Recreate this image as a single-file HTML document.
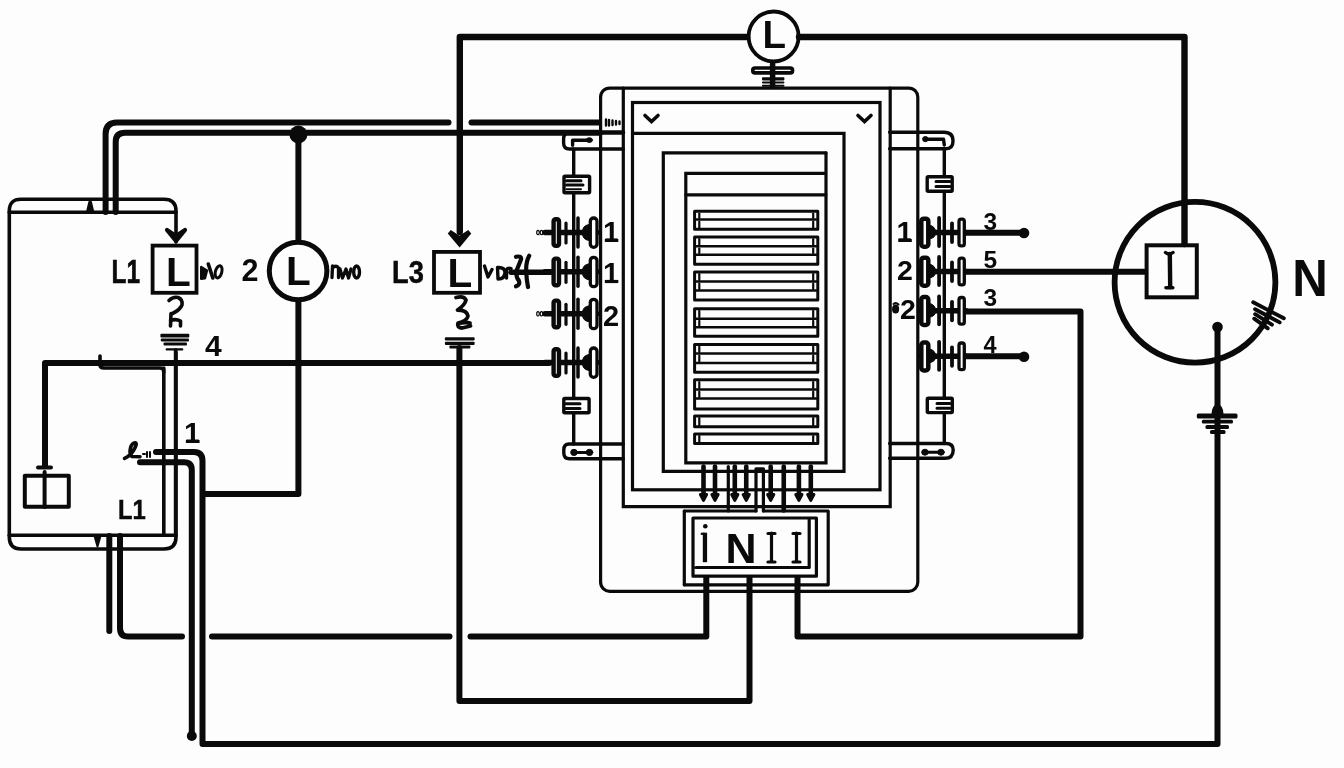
<!DOCTYPE html>
<html><head><meta charset="utf-8"><style>
html,body{margin:0;padding:0;background:#fdfdfd;width:1344px;height:768px;overflow:hidden}
svg{display:block;will-change:transform}
text{font-family:"Liberation Sans",sans-serif;font-weight:bold;fill:#0a0a0a;stroke:none}
</style></head><body>
<svg width="1344" height="768" viewBox="0 0 1344 768">
<g fill="none" stroke="#0a0a0a" stroke-linecap="round" stroke-linejoin="round">

<g stroke-width="3.2" stroke-linejoin="miter">
  <rect x="600.6" y="88.1" width="317.2" height="503.2" rx="9"/>
  <path d="M623.3 88.1 L623.3 506.7 L890.2 506.7 L890.2 88.1"/>
  <rect x="632.5" y="102.5" width="247.5" height="387.3"/>
  <path d="M632.5 133.3 L844 133.3 L844 471.3 L663.3 471.3 L663.3 152.9 L826 152.9"/>
  <path d="M826 152.9 L826 462.9 L685.8 462.9 L685.8 173.4 L826 173.4"/>
  <path d="M685.8 194.8 L825.8 194.8"/>
  <!-- chevrons -->
  <path d="M645 115.5 L651.5 121.5 L658 115.5" stroke-width="3.6"/>
  <path d="M858 115.5 L864.5 121.5 L871 115.5" stroke-width="3.6"/>
</g>

<g stroke-width="3">
<rect x="694.6" y="211.3" width="123.2" height="18.0"/>
<path d="M696 219.5 L816 219.5" stroke-width="2.6"/>
<path d="M699.3 213.5 L699.3 217.9" stroke-width="2.2"/>
<path d="M813.2 213.5 L813.2 217.9" stroke-width="2.2"/>
<path d="M699.3 221.7 L699.3 227.7" stroke-width="2.2"/>
<path d="M813.2 221.7 L813.2 227.7" stroke-width="2.2"/>
<rect x="694.6" y="237" width="123.2" height="27.3"/>
<path d="M696 246.3 L816 246.3" stroke-width="2.6"/>
<path d="M696 254.7 L816 254.7" stroke-width="2.6"/>
<path d="M699.3 239.2 L699.3 244.7" stroke-width="2.2"/>
<path d="M813.2 239.2 L813.2 244.7" stroke-width="2.2"/>
<path d="M699.3 248.5 L699.3 253.1" stroke-width="2.2"/>
<path d="M813.2 248.5 L813.2 253.1" stroke-width="2.2"/>
<rect x="694.6" y="272" width="123.2" height="28.1"/>
<path d="M696 281.5 L816 281.5" stroke-width="2.6"/>
<path d="M696 290.5 L816 290.5" stroke-width="2.6"/>
<path d="M699.3 274.2 L699.3 279.9" stroke-width="2.2"/>
<path d="M813.2 274.2 L813.2 279.9" stroke-width="2.2"/>
<path d="M699.3 283.7 L699.3 288.9" stroke-width="2.2"/>
<path d="M813.2 283.7 L813.2 288.9" stroke-width="2.2"/>
<rect x="694.6" y="308.7" width="123.2" height="27.5"/>
<path d="M696 318.7 L816 318.7" stroke-width="2.6"/>
<path d="M696 327.3 L816 327.3" stroke-width="2.6"/>
<path d="M699.3 310.9 L699.3 317.1" stroke-width="2.2"/>
<path d="M813.2 310.9 L813.2 317.1" stroke-width="2.2"/>
<path d="M699.3 320.9 L699.3 325.7" stroke-width="2.2"/>
<path d="M813.2 320.9 L813.2 325.7" stroke-width="2.2"/>
<rect x="694.6" y="344.5" width="123.2" height="27.8"/>
<path d="M696 353.5 L816 353.5" stroke-width="2.6"/>
<path d="M696 363 L816 363" stroke-width="2.6"/>
<path d="M699.3 346.7 L699.3 351.9" stroke-width="2.2"/>
<path d="M813.2 346.7 L813.2 351.9" stroke-width="2.2"/>
<path d="M699.3 355.7 L699.3 361.4" stroke-width="2.2"/>
<path d="M813.2 355.7 L813.2 361.4" stroke-width="2.2"/>
<rect x="694.6" y="379.8" width="123.2" height="29.2"/>
<path d="M696 389.5 L816 389.5" stroke-width="2.6"/>
<path d="M696 398.5 L816 398.5" stroke-width="2.6"/>
<path d="M699.3 382.0 L699.3 387.9" stroke-width="2.2"/>
<path d="M813.2 382.0 L813.2 387.9" stroke-width="2.2"/>
<path d="M699.3 391.7 L699.3 396.9" stroke-width="2.2"/>
<path d="M813.2 391.7 L813.2 396.9" stroke-width="2.2"/>
<rect x="694.6" y="416" width="123.2" height="10.8"/>
<path d="M699.3 418.2 L699.3 425.2" stroke-width="2.2"/>
<path d="M813.2 418.2 L813.2 425.2" stroke-width="2.2"/>
<rect x="694.6" y="434" width="123.2" height="9.4"/>
<path d="M699.3 436.2 L699.3 441.8" stroke-width="2.2"/>
<path d="M813.2 436.2 L813.2 441.8" stroke-width="2.2"/>
</g>
<g>
<path d="M703.5 466.5 L703.5 496" stroke-width="4.6"/>
<path d="M700.3 494.5 L706.7 494.5 L703.5 500.5 Z" fill="#0a0a0a" stroke-width="2.8"/>
<path d="M715 466.5 L715 496" stroke-width="4.6"/>
<path d="M711.8 494.5 L718.2 494.5 L715 500.5 Z" fill="#0a0a0a" stroke-width="2.8"/>
<path d="M734.8 466.5 L734.8 496" stroke-width="4.6"/>
<path d="M731.5999999999999 494.5 L738.0 494.5 L734.8 500.5 Z" fill="#0a0a0a" stroke-width="2.8"/>
<path d="M746.25 466.5 L746.25 496" stroke-width="4.6"/>
<path d="M743.05 494.5 L749.45 494.5 L746.25 500.5 Z" fill="#0a0a0a" stroke-width="2.8"/>
<path d="M770.7 466.5 L770.7 496" stroke-width="4.6"/>
<path d="M767.5 494.5 L773.9000000000001 494.5 L770.7 500.5 Z" fill="#0a0a0a" stroke-width="2.8"/>
<path d="M798.9 466.5 L798.9 496" stroke-width="4.6"/>
<path d="M795.6999999999999 494.5 L802.1 494.5 L798.9 500.5 Z" fill="#0a0a0a" stroke-width="2.8"/>
<path d="M810.8 466.5 L810.8 496" stroke-width="4.6"/>
<path d="M807.5999999999999 494.5 L814.0 494.5 L810.8 500.5 Z" fill="#0a0a0a" stroke-width="2.8"/>
</g>
<g stroke-width="3.2">
<path d="M728.3 466.5 L728.3 511"/>
<path d="M783.75 466.5 L783.75 510.5" stroke-width="4.6"/>
<path d="M756 511 L756 468.8 L763.4 468.8 L763.4 511"/>
</g>
<g stroke-width="3.2">
<path d="M684.3 511 L756 511 M763.4 511 L828.2 511 L828.2 584.8 L684.3 584.8"/>
<path d="M684.3 511 L684.3 584.8"/>
<path d="M693 576.2 L693 518 L816.4 518 L816.4 576.2 L693 576.2 M696 567.5 L809.2 567.5 L809.2 518"/>
</g>
<g fill="#0a0a0a" stroke="none">
<circle cx="705.3" cy="526.3" r="2.3"/>
<rect x="702.8" y="532.7" width="4.3" height="29.5"/>
<rect x="700.8" y="532.7" width="4" height="2.2"/>
</g>
<text x="725.5" y="562.6" font-size="43">N</text>
<g stroke-width="3.2">
<path d="M771.5 533 L771.5 562 M768 533.5 L775 533.5 M768 562 L775 562"/>
<path d="M796.5 533 L796.5 562 M793 533.5 L800 533.5 M793 562 L800 562"/>
</g>

<g stroke-width="3.4">
<!-- left top bracket -->
<path d="M569 132.5 Q563.6 133 563.6 139 L563.6 143 Q563.6 149 569.5 149 L623.3 149"/>
<path d="M572.6 145.3 L572.6 140.3 L588 140.3"/>
<ellipse cx="589.4" cy="140.1" rx="3" ry="2.4" fill="#0a0a0a" stroke-width="1"/>
<path d="M573.7 149 L573.7 176"/>
<path d="M573.7 193 L573.7 397"/>
<path d="M573.7 414 L573.7 444"/>
<rect x="564" y="176.3" width="25.6" height="16.5" rx="1"/>
<path d="M566.5 180.8 L581 180.8 M566.5 185 L583 185" stroke-width="3"/>
<path d="M566.5 189.3 L581 189.3" stroke-width="2"/>
<!-- left bottom bracket -->
<path d="M623.3 444 L569 444 Q563.8 444 563.8 450 L563.8 453 Q563.8 458.7 569.5 458.7 L623.3 458.7"/>
<path d="M574 452.4 L590 452.4" stroke-width="3"/>
<ellipse cx="574" cy="452.4" rx="3.3" ry="3.1" fill="#0a0a0a" stroke-width="1"/>
<ellipse cx="589.5" cy="452.4" rx="3.3" ry="3.1" fill="#0a0a0a" stroke-width="1"/>
<rect x="563.8" y="398.5" width="25.3" height="14.3" rx="1"/>
<path d="M566 403.8 L580 403.8 M566 408.4 L580 408.4" stroke-width="3"/>
<!-- right top bracket -->
<path d="M889.6 132.3 L944 132.3 Q953 132.3 953 141 Q953 148.7 946 148.7 L889.6 148.7"/>
<ellipse cx="925.4" cy="139.1" rx="2.8" ry="2.6" fill="#0a0a0a" stroke-width="1"/>
<path d="M925.2 139.3 L943.5 139.3 L944.3 145"/>
<path d="M944.3 149 L944.3 175"/>
<path d="M944.3 193 L944.3 398.3"/>
<path d="M944.3 412.6 L944.3 443.5"/>
<rect x="927.2" y="176.8" width="25" height="14.4" rx="1"/>
<path d="M936 181.6 L950 181.6 M936 186.4 L950 186.4" stroke-width="3"/>
<!-- right bottom bracket -->
<path d="M889.6 443.5 L946 443.5 Q953.2 443.5 953.2 450 Q953.2 458.3 945 458.3 L889.6 458.3"/>
<path d="M925 452.2 L941 452.2" stroke-width="3"/>
<ellipse cx="925" cy="452.2" rx="3.3" ry="3" fill="#0a0a0a" stroke-width="1"/>
<ellipse cx="941" cy="452.2" rx="3.3" ry="3" fill="#0a0a0a" stroke-width="1"/>
<rect x="927.3" y="398.3" width="25" height="14.3" rx="1"/>
<path d="M937 403.5 L950 403.5 M937 408.2 L950 408.2" stroke-width="3"/>
</g>

<g>
<line x1="545" y1="232.5" x2="597" y2="232.5" stroke-width="5.5"/>
<rect x="553.6" y="219.3" width="5.4" height="26.6" rx="2" stroke-width="4.4" fill="#fff"/>
<line x1="566" y1="223.0" x2="566" y2="243.0" stroke-width="3.2"/>
<line x1="578" y1="218.0" x2="578" y2="247.0" stroke-width="3.5"/>
<path d="M589 224.5 Q582 225.5 582.5 232.5 Q582 239.5 589 240.5 Z" fill="#0a0a0a" stroke-width="1"/>
<rect x="590.3" y="218.0" width="6.7" height="29.4" rx="3.3" stroke-width="3.3" fill="#fff"/>
<ellipse cx="538" cy="232.5" rx="1.3" ry="2.2" stroke-width="1.2"/>
<ellipse cx="541.5" cy="232.5" rx="1.3" ry="2.2" stroke-width="1.2"/>
<line x1="545" y1="271.8" x2="597" y2="271.8" stroke-width="5.5"/>
<rect x="553.6" y="258.6" width="5.4" height="26.6" rx="2" stroke-width="4.4" fill="#fff"/>
<line x1="566" y1="262.3" x2="566" y2="282.3" stroke-width="3.2"/>
<line x1="578" y1="257.3" x2="578" y2="286.3" stroke-width="3.5"/>
<path d="M589 263.8 Q582 264.8 582.5 271.8 Q582 278.8 589 279.8 Z" fill="#0a0a0a" stroke-width="1"/>
<rect x="590.3" y="257.3" width="6.7" height="29.4" rx="3.3" stroke-width="3.3" fill="#fff"/>
<line x1="545" y1="313.8" x2="597" y2="313.8" stroke-width="5.5"/>
<rect x="553.6" y="300.6" width="5.4" height="26.6" rx="2" stroke-width="4.4" fill="#fff"/>
<line x1="566" y1="304.3" x2="566" y2="324.3" stroke-width="3.2"/>
<line x1="578" y1="299.3" x2="578" y2="328.3" stroke-width="3.5"/>
<path d="M589 305.8 Q582 306.8 582.5 313.8 Q582 320.8 589 321.8 Z" fill="#0a0a0a" stroke-width="1"/>
<rect x="590.3" y="299.3" width="6.7" height="29.4" rx="3.3" stroke-width="3.3" fill="#fff"/>
<ellipse cx="538" cy="313.8" rx="1.3" ry="2.2" stroke-width="1.2"/>
<ellipse cx="541.5" cy="313.8" rx="1.3" ry="2.2" stroke-width="1.2"/>
<line x1="545" y1="362.5" x2="597" y2="362.5" stroke-width="5.5"/>
<rect x="553.6" y="349.3" width="5.4" height="26.6" rx="2" stroke-width="4.4" fill="#fff"/>
<line x1="566" y1="353.0" x2="566" y2="373.0" stroke-width="3.2"/>
<line x1="578" y1="348.0" x2="578" y2="377.0" stroke-width="3.5"/>
<path d="M589 354.5 Q582 355.5 582.5 362.5 Q582 369.5 589 370.5 Z" fill="#0a0a0a" stroke-width="1"/>
<rect x="590.3" y="348.0" width="6.7" height="29.4" rx="3.3" stroke-width="3.3" fill="#fff"/>
<line x1="921" y1="232.5" x2="966" y2="232.5" stroke-width="5.5"/>
<rect x="921.3" y="218.7" width="7" height="28" rx="2.5" stroke-width="4.5" fill="#fff"/>
<path d="M929 224.9 Q936 226.5 935.5 232.5 Q936 238.0 929 239.0 Z" fill="#0a0a0a" stroke-width="1"/>
<line x1="939.1" y1="218.0" x2="939.1" y2="246.0" stroke-width="3.8"/>
<line x1="952" y1="223.5" x2="952" y2="242.0" stroke-width="3.8"/>
<rect x="959" y="219.2" width="5.3" height="26.7" rx="2.2" stroke-width="3.3" fill="#fff"/>
<line x1="921" y1="271.5" x2="966" y2="271.5" stroke-width="5.5"/>
<rect x="921.3" y="257.7" width="7" height="28" rx="2.5" stroke-width="4.5" fill="#fff"/>
<path d="M929 263.9 Q936 265.5 935.5 271.5 Q936 277.0 929 278.0 Z" fill="#0a0a0a" stroke-width="1"/>
<line x1="939.1" y1="257.0" x2="939.1" y2="285.0" stroke-width="3.8"/>
<line x1="952" y1="262.5" x2="952" y2="281.0" stroke-width="3.8"/>
<rect x="959" y="258.2" width="5.3" height="26.7" rx="2.2" stroke-width="3.3" fill="#fff"/>
<line x1="921" y1="310.8" x2="966" y2="310.8" stroke-width="5.5"/>
<rect x="921.3" y="297.0" width="7" height="28" rx="2.5" stroke-width="4.5" fill="#fff"/>
<path d="M929 303.2 Q936 304.8 935.5 310.8 Q936 316.3 929 317.3 Z" fill="#0a0a0a" stroke-width="1"/>
<line x1="939.1" y1="296.3" x2="939.1" y2="324.3" stroke-width="3.8"/>
<line x1="952" y1="301.8" x2="952" y2="320.3" stroke-width="3.8"/>
<rect x="959" y="297.5" width="5.3" height="26.7" rx="2.2" stroke-width="3.3" fill="#fff"/>
<line x1="921" y1="356.3" x2="966" y2="356.3" stroke-width="5.5"/>
<rect x="921.3" y="342.5" width="7" height="28" rx="2.5" stroke-width="4.5" fill="#fff"/>
<path d="M929 348.7 Q936 350.3 935.5 356.3 Q936 361.8 929 362.8 Z" fill="#0a0a0a" stroke-width="1"/>
<line x1="939.1" y1="341.8" x2="939.1" y2="369.8" stroke-width="3.8"/>
<line x1="952" y1="347.3" x2="952" y2="365.8" stroke-width="3.8"/>
<rect x="959" y="343.0" width="5.3" height="26.7" rx="2.2" stroke-width="3.3" fill="#fff"/>
</g>
<!-- ===== thick wires ===== -->
<g stroke-width="6">
  <path d="M105.6 212 L105.6 134 Q105.6 122.4 117 122.4 L448.5 122.4"/>
  <path d="M471.5 122.4 L599 122.4"/>
  <path d="M115.7 212 L115.7 142 Q115.7 132.8 125 132.8 L600 132.8"/>
  <path d="M600 132.6 L623 132.6" stroke-width="4.5"/>
  <path d="M298.4 134 L298.4 240"/>
  <path d="M298.4 302 L298.4 494 L204 494"/>
  <path d="M459.8 232 L459.8 37 L747 37" stroke-width="6.4"/>
  <path d="M799 37 L1184.5 37 L1184.5 244" stroke-width="6.4"/>
  <path d="M45 466 L45 363 L549 363"/>
  <path d="M459.4 348 L459.4 701 L749.5 701 L749.5 578"/>
  <path d="M109.3 536 L109.3 631"/>
  <path d="M120 536 L120 628 Q120 636.5 128 636.5 L182 636.5"/>
  <path d="M212 636.5 L449.5 636.5"/>
  <path d="M470.5 636.5 L706.3 636.5 L706.3 578"/>
  <path d="M140 462.3 L184 462.3 Q191.8 462.3 191.8 470 L191.8 733"/>
  <path d="M156 452 L194 452 Q202.5 452 202.5 461 L202.5 744 L1217.5 744 L1217.5 327"/>
  <path d="M797.5 578 L797.5 636.5 L1080.5 636.5 L1080.5 311.5 L966 311.5"/>
  <path d="M966 232.8 L1024 232.8"/>
  <path d="M966 271.8 L1144 271.8"/>
  <path d="M966 356.3 L1024 356.3"/>
  <path d="M511 272.3 L552 272.3" stroke-width="5.5"/>
</g>
<g fill="#0a0a0a" stroke="none">
  <circle cx="298.4" cy="134.5" r="9"/>
  <circle cx="1024" cy="233" r="5.3"/>
  <circle cx="1024" cy="356.8" r="5.3"/>
  <circle cx="1217.5" cy="327" r="5.3"/>
  <circle cx="191.8" cy="736" r="5"/>
</g>

<!-- ===== left device ===== -->
<g stroke-width="3.6">
  <path d="M176 242 L176 211 Q176 199.3 164 199.3 L21 199.3 Q9.3 199.3 9.3 211 L9.3 537 Q9.3 549 21 549 L164 549 Q176 549 176 537 L176 352"/>
  <path d="M9.3 212.3 L176 212.3"/>
  <path d="M9.3 535.3 L176 535.3"/>
  <path d="M167 230 L176 236 L185 230 L176 241 Z" fill="#0a0a0a" stroke-width="4.2"/>
  <path d="M163.8 368 L163.8 535"/>
  <path d="M100 356 L100 365 Q100 368 104 368 L160 368 Q163.8 368 163.8 372"/>
  <path d="M87 212 L89.3 202 L91 202 L93.3 212 Z" fill="#0a0a0a" stroke-width="2"/>
  <path d="M94.5 536 L100.5 536 L97.5 546.5 Z" fill="#0a0a0a" stroke-width="2"/>
  <rect x="24.8" y="475.8" width="44" height="31" stroke-width="4"/>
  <path d="M44.6 472 L44.6 507" stroke-width="4"/>
  <path d="M38 467.5 L51 467.5" stroke-width="4"/>
</g>

<!-- ===== L boxes ===== -->
<g stroke-width="3.8" stroke-linejoin="miter">
  <rect x="152.6" y="245.6" width="43.9" height="47.2"/>
  <rect x="434" y="251.9" width="46" height="40.9"/>
  <path d="M449.5 232 L459.6 238.5 L469.5 232 L459.6 244 Z" fill="#0a0a0a" stroke-width="4.6"/>
  <rect x="1146.6" y="245.3" width="50.2" height="52" stroke-width="4"/>
</g>
<g stroke-width="5">
  <circle cx="298.1" cy="271" r="28.8"/>
</g>
<g stroke-width="3.8">
  <circle cx="773.6" cy="36.5" r="25"/>
</g>
<circle cx="1195" cy="282.3" r="80.4" stroke-width="5.8"/>
<!-- under top circle -->
<g stroke-width="3.7">
  <rect x="752.8" y="68" width="39.7" height="4.9" rx="2.2"/>
  <path d="M772.6 64 L772.6 85.5" stroke-width="5.5"/>
</g>
<g fill="#0a0a0a" stroke="none">
  <rect x="762" y="77.3" width="22.4" height="3.1" rx="0.8"/>
  <rect x="762" y="81.6" width="22.4" height="1.9" rx="0.8"/>
  <rect x="762" y="84.7" width="22.4" height="2" rx="0.8"/>
</g>
<!-- I beam -->
<g stroke-width="4.4">
  <path d="M1169.8 254 L1170.2 287"/>
  <path d="M1165.5 252.5 Q1169 255.5 1173 252.5" stroke-width="3.4"/>
  <path d="M1166 287.8 L1172.8 287.8" stroke-width="3.6"/>
</g>
<!-- hatch -->
<g stroke-width="3.9">
  <path d="M1253.2 302.3 L1283.8 318.3"/>
  <path d="M1255.1 309.2 L1279.7 322.4"/>
  <path d="M1255.1 314.2 L1271.9 324.7"/>
  <path d="M1254.2 318.7 L1267.8 328.3"/>
</g>
<!-- ground right -->
<g fill="#0a0a0a" stroke="none">
  <path d="M1211.5 414 Q1212 404.5 1217.5 404.5 Q1223 404.5 1223.5 414 Z"/>
  <rect x="1196.8" y="413.5" width="40.7" height="5" rx="1.5"/>
  <rect x="1201.8" y="419.7" width="31.2" height="3.8" rx="1.5"/>
  <rect x="1205.5" y="425" width="23.5" height="4" rx="1.5"/>
  <rect x="1210" y="430" width="15.5" height="4" rx="1.5"/>
</g>
<!-- ground L1 -->
<g fill="#0a0a0a" stroke="none">
  <rect x="160.4" y="333.8" width="28.9" height="3.8" rx="1"/>
  <rect x="160.8" y="338.6" width="28.2" height="2.8" rx="1"/>
  <rect x="163.5" y="342.6" width="23.5" height="2.8" rx="1"/>
  <rect x="165.6" y="348.2" width="17.7" height="2.4" rx="1"/>
</g>
<path d="M175.6 350 L175.6 536" stroke-width="3.6"/>
<!-- ground L3 -->
<g fill="#0a0a0a" stroke="none">
  <rect x="444.9" y="337.3" width="29.7" height="3.2" rx="1"/>
  <rect x="444.9" y="341.8" width="29.7" height="3.2" rx="1"/>
  <rect x="449.4" y="345.6" width="21" height="3" rx="1"/>
</g>
<!-- squiggles -->
<path d="M169 300.5 Q173 296.5 178 297.5 Q183 299.5 182 305 Q180 310 172.5 313.5 M171 313.5 L170.5 326 M170.5 320.5 Q176 318.5 180.5 321 L180.5 326" stroke-width="3.6"/>
<path d="M456 297.5 Q464 295.5 466 300 Q465 305 457.5 310 Q467 310 468 316 Q467 321 458 323 Q456.5 327.5 462 328 L470.5 326 M459 323 Q466 322 470 323" stroke-width="3.8"/>
<!-- scribbles -->
<path d="M201.2 267 L207 270.5 L205 278.3 L201.2 278.8 Z" fill="#0a0a0a" stroke-width="2.4"/><path d="M208.3 264 L212.8 278" stroke-width="3.6"/><ellipse cx="218.6" cy="271.8" rx="3.2" ry="6.3" transform="rotate(15 218.6 271.8)" stroke-width="3"/>
<path d="M332.5 266 L332 277.5 M332.5 268 Q336 264.5 338.5 268 L338.5 277.5 M340 269 L342.5 278 L346 269 L348.5 278 L351 269" stroke-width="3.3"/><ellipse cx="356.6" cy="272" rx="2.9" ry="6" stroke-width="3.4"/>
<path d="M484.5 266 L488 277 L492 269.5 M497.5 267.5 L498 279 Q505 279 505 272 Q504.5 267 497.5 267.5 Z M506.5 278 L506.5 269.5 Q508 267.5 511 268.5" stroke-width="3.4"/>
<path d="M516 256.8 Q522 255.5 521 259.5 L516.8 270 Q515.5 277 518.8 280.5 Q520.5 285 516 286.3 M529.2 255.8 Q525.8 262 526.2 271 Q526.5 280 528 287" stroke-width="4.2"/>
<path d="M124.5 458.3 Q130 456 133.5 450.5 Q137.5 444 135.5 442.8 Q132 442.5 130.5 448 Q129 454 132 456.5 L140 456.8" stroke-width="3.6"/>
<path d="M143 454 L145 454 M147 452 L147 457 M150 452 L150 457" stroke-width="2"/>
<!-- connector small scribbles on right -->
<ellipse cx="895.6" cy="309" rx="2.8" ry="3.8" fill="#0a0a0a" stroke-width="1.5"/><path d="M893.5 304 Q896 302 898.5 304.5" stroke-width="2"/>
<!-- Md marks -->
<path d="M606 119.5 L606 125.5 M609 120 L609 125.5 M612.5 120.5 L612.5 125 M616 121 L616 124.5 M619.5 121.5 L619.5 124" stroke-width="2.4"/>
</g>

<!-- ===== texts ===== -->
<text x="111.5" y="282.9" font-size="33" textLength="28.5" lengthAdjust="spacingAndGlyphs" style="stroke:#0a0a0a;stroke-width:0.6px">L1</text>
<text x="166" y="286.3" font-size="40.5">L</text>
<text x="241.5" y="281.4" font-size="30.5">2</text>
<text x="286" y="285" font-size="40.5">L</text>
<text x="392" y="282.7" font-size="31.5" textLength="31.8" lengthAdjust="spacingAndGlyphs" style="stroke:#0a0a0a;stroke-width:0.5px">L3</text>
<text x="447.5" y="287.4" font-size="40.5">L</text>
<text x="762.5" y="48.2" font-size="38.5">L</text>
<text x="1292.3" y="296.3" font-size="52" textLength="35.6" lengthAdjust="spacingAndGlyphs">N</text>
<text x="205" y="355.7" font-size="30">4</text>
<text x="184" y="442.7" font-size="29.5">1</text>
<rect x="186.4" y="439.5" width="12.3" height="3.2" fill="#0a0a0a"/>
<text x="118" y="518.6" font-size="28.5" textLength="27.8" lengthAdjust="spacingAndGlyphs" style="stroke:#0a0a0a;stroke-width:0.5px">L1</text>
<text x="603" y="241.6" font-size="29">1</text>
<rect x="605.5" y="238.4" width="12" height="3.2" fill="#0a0a0a"/>
<text x="603" y="283.1" font-size="29">1</text>
<rect x="605.3" y="279.9" width="12.3" height="3.2" fill="#0a0a0a"/>
<text x="603" y="325.8" font-size="29">2</text>
<text x="896.5" y="241.5" font-size="29">1</text>
<rect x="898.6" y="238.3" width="12.2" height="3.2" fill="#0a0a0a"/>
<text x="897" y="279.6" font-size="28.5">2</text>
<text x="900" y="319" font-size="28.5">2</text>
<text x="983.5" y="229.5" font-size="24.5">3</text>
<text x="983.5" y="267.8" font-size="24.5">5</text>
<text x="983.5" y="306.2" font-size="24.5">3</text>
<text x="983.5" y="352.8" font-size="23.5">4</text>
</svg>
</body></html>
